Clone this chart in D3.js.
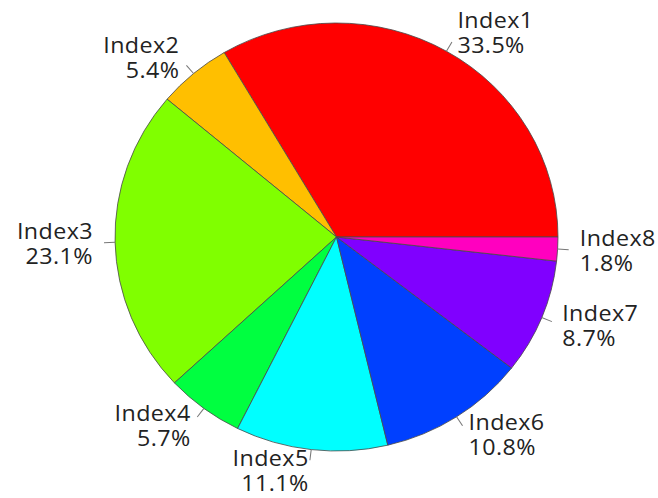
<!DOCTYPE html>
<html>
<head>
<meta charset="utf-8">
<script src="https://cdn.jsdelivr.net/npm/d3@7/dist/d3.min.js"></script>
<style>
  html, body { margin: 0; padding: 0; background: #ffffff; }
  svg { display: block; }
</style>
</head>
<body>
<svg id="chart" width="658" height="498"></svg>
<script>
// Slice names, shares (%) and fill colours
const categories = ["Index1", "Index2", "Index3", "Index4", "Index5", "Index6", "Index7", "Index8"];
const values = [33.5, 5.4, 23.1, 5.7, 11.1, 10.8, 8.7, 1.8];
const colors = ["#FF0000", "#FFBF00", "#80FF00", "#00FF40", "#00FFFF", "#0040FF", "#8000FF", "#FF00BF"];

const cx = 336.5, cy = 237, radius = 214;
const stretchX = 1.035;          // plot area is slightly wider than tall
const fontSize = 22.5, lineHeight = 25;

const svg = d3.select("#chart");
const g = svg.append("g").attr("transform", `translate(${cx},${cy}) scale(${stretchX},1)`);

const data = categories.map((c, i) => ({ name: c, value: values[i], color: colors[i] }));

// Slices run counter-clockwise starting at 3 o'clock.
const pie = d3.pie()
  .value(d => d.value)
  .sort(null)
  .startAngle(Math.PI / 2)
  .endAngle(Math.PI / 2 - 2 * Math.PI);

const arcs = pie(data);
const arc = d3.arc().innerRadius(0).outerRadius(radius);

g.selectAll("path.slice")
  .data(arcs)
  .join("path")
  .attr("class", "slice")
  .attr("d", arc)
  .attr("fill", d => d.data.color)
  .attr("stroke", "#4a4a4a")
  .attr("stroke-width", 0.8);

// Labels: tick from r to 1.05r, two-line text centred at 1.1r
arcs.forEach(d => {
  const a = (d.startAngle + d.endAngle) / 2;
  const ux = Math.sin(a), uy = -Math.cos(a);
  g.append("line")
    .attr("x1", ux * radius).attr("y1", uy * radius)
    .attr("x2", ux * radius * 1.05).attr("y2", uy * radius * 1.05)
    .attr("stroke", "#777")
    .attr("stroke-width", 1);

  const tx = ux * radius * 1.1, ty = uy * radius * 1.1;
  const anchor = ux >= 0 ? "start" : "end";
  const text = g.append("text")
    .attr("x", tx).attr("y", ty)
    .attr("text-anchor", anchor)
    .attr("font-family", "'Open Sans', 'Noto Sans', sans-serif")
    .attr("font-size", fontSize)
    .attr("letter-spacing", 0.4)
    .attr("fill", "#222");
  text.append("tspan")
    .attr("x", tx)
    .attr("dy", -lineHeight / 2 + fontSize * 0.36)
    .text(d.data.name);
  text.append("tspan")
    .attr("x", tx)
    .attr("dy", lineHeight)
    .text(d3.format(".1f")(d.data.value) + "%");
});
</script>
</body>
</html>
